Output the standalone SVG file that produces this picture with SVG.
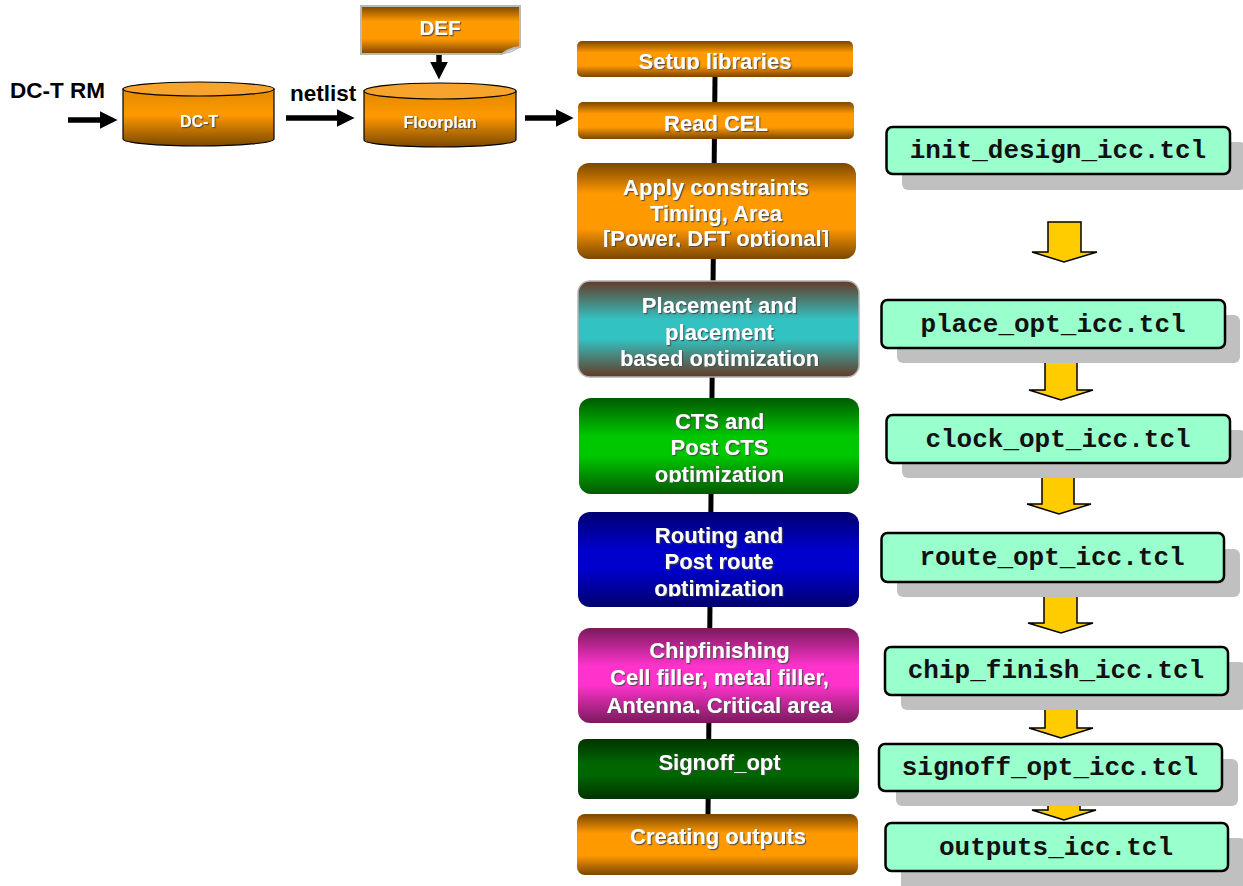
<svg xmlns="http://www.w3.org/2000/svg" width="1243" height="886" viewBox="0 0 1243 886">
  <defs>
    <linearGradient id="gOrange" x1="0" y1="0" x2="0" y2="1">
      <stop offset="0" stop-color="#7a4600"/>
      <stop offset="0.32" stop-color="#ff9900"/>
      <stop offset="0.68" stop-color="#ff9900"/>
      <stop offset="1" stop-color="#7a4600"/>
    </linearGradient>
    <linearGradient id="gTeal" x1="0" y1="0" x2="0" y2="1">
      <stop offset="0" stop-color="#643a26"/>
      <stop offset="0.4" stop-color="#33c2c2"/>
      <stop offset="0.6" stop-color="#33c2c2"/>
      <stop offset="1" stop-color="#643a26"/>
    </linearGradient>
    <linearGradient id="gGreen" x1="0" y1="0" x2="0" y2="1">
      <stop offset="0" stop-color="#005a00"/>
      <stop offset="0.4" stop-color="#00c800"/>
      <stop offset="0.6" stop-color="#00c800"/>
      <stop offset="1" stop-color="#005a00"/>
    </linearGradient>
    <linearGradient id="gBlue" x1="0" y1="0" x2="0" y2="1">
      <stop offset="0" stop-color="#000070"/>
      <stop offset="0.4" stop-color="#0000cc"/>
      <stop offset="0.6" stop-color="#0000cc"/>
      <stop offset="1" stop-color="#000070"/>
    </linearGradient>
    <linearGradient id="gPink" x1="0" y1="0" x2="0" y2="1">
      <stop offset="0" stop-color="#7a1a5c"/>
      <stop offset="0.4" stop-color="#ff33cc"/>
      <stop offset="0.6" stop-color="#ff33cc"/>
      <stop offset="1" stop-color="#7a1a5c"/>
    </linearGradient>
    <linearGradient id="gDark" x1="0" y1="0" x2="0" y2="1">
      <stop offset="0" stop-color="#003300"/>
      <stop offset="0.4" stop-color="#006600"/>
      <stop offset="0.6" stop-color="#006600"/>
      <stop offset="1" stop-color="#003300"/>
    </linearGradient>
    <linearGradient id="gCyl" x1="0" y1="0" x2="0" y2="1">
      <stop offset="0" stop-color="#e08a00"/>
      <stop offset="0.45" stop-color="#ff9900"/>
      <stop offset="1" stop-color="#7a4800"/>
    </linearGradient>
    <filter id="txtShadow" x="-10%" y="-30%" width="120%" height="160%">
      <feDropShadow dx="1.2" dy="1.2" stdDeviation="0.4" flood-color="#4a4a4a" flood-opacity="0.9"/>
    </filter>
    <clipPath id="cSetup"><rect x="570" y="30" width="300" height="39.5"/></clipPath>
    <clipPath id="cApply"><rect x="570" y="160" width="300" height="87"/></clipPath>
    <clipPath id="cPlace"><rect x="570" y="280" width="300" height="86.5"/></clipPath>
    <clipPath id="cCts"><rect x="570" y="395" width="300" height="87.5"/></clipPath>
    <clipPath id="cRoute"><rect x="570" y="510" width="300" height="86.5"/></clipPath>
    <clipPath id="cChip"><rect x="570" y="625" width="300" height="88.5"/></clipPath>
    <marker id="blkHead" viewBox="0 0 10 10" refX="0" refY="5" markerWidth="3.2" markerHeight="3.4" orient="auto" markerUnits="strokeWidth">
      <path d="M0,0 L10,5 L0,10 Z" fill="#000"/>
    </marker>
  </defs>
  <style>
    .lbl { font-family: "Liberation Sans", Arial, sans-serif; font-weight: bold; fill: #ffffff; text-anchor: middle; filter: url(#txtShadow); }
    .flow { font-size: 22px; }
    .cyl { font-size: 16px; }
    .note { font-family: "Liberation Sans", Arial, sans-serif; font-weight: bold; font-size: 22.5px; fill: #000; }
    .tcl { font-family: "Liberation Mono", "Courier New", monospace; font-weight: bold; font-size: 26px; fill: #111; text-anchor: middle; }
    .tclBox { fill: #99ffcc; stroke: #000; stroke-width: 2.5; }
    .tclShadow { fill: #c0c0c0; }
    .bigArrow { fill: #ffcc00; stroke: #000; stroke-width: 1.5; stroke-linejoin: miter; }
    .blk { stroke: #000; stroke-width: 5.5; fill: none; }
    .cylEdge { stroke: #000; stroke-width: 1.2; }
  </style>

  <!-- connectors -->
  <g id="connectors">
    <!-- spine of the flow -->
    <line x1="715" y1="77" x2="708" y2="815" stroke="#000" stroke-width="5"/>
    <!-- input arrows -->
    <line class="blk" x1="68" y1="120" x2="100" y2="120" marker-end="url(#blkHead)"/>
    <line class="blk" x1="286" y1="118" x2="337" y2="118" marker-end="url(#blkHead)"/>
    <line class="blk" x1="525" y1="118" x2="556" y2="118" marker-end="url(#blkHead)"/>
    <line class="blk" x1="439" y1="54" x2="439" y2="62" marker-end="url(#blkHead)"/>
    <!-- script sequence arrows -->
    <polygon class="bigArrow" points="1048,222 1081,222 1081,252 1097,252 1064,262 1032,252 1048,252"/>
    <polygon class="bigArrow" points="1045,355 1077,355 1077,390 1093,390 1061,400 1029,390 1045,390"/>
    <polygon class="bigArrow" points="1042,470 1074,470 1074,504 1091,504 1059,514 1027,504 1042,504"/>
    <polygon class="bigArrow" points="1044,590 1077,590 1077,623 1093,623 1061,633 1028,623 1044,623"/>
    <polygon class="bigArrow" points="1045,700 1077,700 1077,728 1093,728 1061,738 1029,728 1045,728"/>
    <polygon class="bigArrow" points="1048,790 1080,790 1080,810 1096,810 1064,820 1032,810 1048,810"/>
  </g>

  <!-- input labels -->
  <g id="label-dct-rm"><text class="note" x="10" y="98">DC-T RM</text></g>
  <g id="label-netlist"><text class="note" x="290" y="101">netlist</text></g>

  <!-- DEF document -->
  <g id="def">
    <path d="M361,6 H520 V47 Q510,48 502,54 H361 Z" fill="url(#gOrange)" stroke="#b8b8b8" stroke-width="2"/>
    <path d="M502,54 Q507,50 520,47 Q512,53 502,54 Z" fill="#d8d8d8" stroke="#b8b8b8" stroke-width="1"/>
    <text class="lbl" x="440" y="35" font-size="20.5">DEF</text>
  </g>

  <!-- databases -->
  <g id="dct">
    <path class="cylEdge" d="M123,89 V139 A75.5,7 0 0 0 274,139 V89 Z" fill="url(#gCyl)"/>
    <ellipse class="cylEdge" cx="198.5" cy="89" rx="75.5" ry="7" fill="#f7a42c"/>
    <text class="lbl cyl" x="199" y="127">DC-T</text>
  </g>
  <g id="floorplan">
    <path class="cylEdge" d="M364,91 V140 A76,7 0 0 0 516,140 V91 Z" fill="url(#gCyl)"/>
    <ellipse class="cylEdge" cx="440" cy="91" rx="76" ry="8" fill="#f7a42c"/>
    <text class="lbl cyl" x="440" y="128">Floorplan</text>
  </g>

  <!-- flow steps -->
  <g id="setup">
    <rect x="577" y="41" width="276" height="36" rx="5" fill="url(#gOrange)"/>
    <g clip-path="url(#cSetup)"><text class="lbl flow" x="715" y="68.5">Setup libraries</text></g>
  </g>
  <g id="readcel">
    <rect x="578" y="102" width="276" height="37" rx="5" fill="url(#gOrange)"/>
    <text class="lbl flow" x="716" y="131">Read CEL</text>
  </g>
  <g id="constraints">
    <rect x="577" y="163" width="279" height="96" rx="12" fill="url(#gOrange)"/>
    <g clip-path="url(#cApply)">
      <text class="lbl flow" x="716" y="195">Apply constraints</text>
      <text class="lbl flow" x="716" y="221">Timing, Area</text>
      <text class="lbl flow" x="716" y="246">[Power, DFT optional]</text>
    </g>
  </g>
  <g id="placement">
    <rect x="578" y="281" width="281" height="96" rx="12" fill="url(#gTeal)" stroke="#b4b4b4" stroke-width="1.5"/>
    <g clip-path="url(#cPlace)">
      <text class="lbl flow" x="719.5" y="313">Placement and</text>
      <text class="lbl flow" x="719.5" y="340">placement</text>
      <text class="lbl flow" x="719.5" y="365.5">based optimization</text>
    </g>
  </g>
  <g id="cts">
    <rect x="579" y="398" width="280" height="96" rx="12" fill="url(#gGreen)"/>
    <g clip-path="url(#cCts)">
      <text class="lbl flow" x="719.5" y="429">CTS and</text>
      <text class="lbl flow" x="719.5" y="455">Post CTS</text>
      <text class="lbl flow" x="719.5" y="481.5">optimization</text>
    </g>
  </g>
  <g id="routing">
    <rect x="578" y="512" width="281" height="95" rx="12" fill="url(#gBlue)"/>
    <g clip-path="url(#cRoute)">
      <text class="lbl flow" x="719" y="543">Routing and</text>
      <text class="lbl flow" x="719" y="569">Post route</text>
      <text class="lbl flow" x="719" y="595.5">optimization</text>
    </g>
  </g>
  <g id="chipfinish">
    <rect x="578" y="628" width="281" height="95" rx="12" fill="url(#gPink)"/>
    <g clip-path="url(#cChip)">
      <text class="lbl flow" x="719.5" y="658">Chipfinishing</text>
      <text class="lbl flow" x="719.5" y="685">Cell filler, metal filler,</text>
      <text class="lbl flow" x="719.5" y="712.5">Antenna, Critical area</text>
    </g>
  </g>
  <g id="signoff">
    <rect x="578" y="739" width="281" height="60" rx="8" fill="url(#gDark)"/>
    <text class="lbl flow" x="719.5" y="770">Signoff_opt</text>
  </g>
  <g id="outputs">
    <rect x="577" y="814" width="281" height="61" rx="8" fill="url(#gOrange)"/>
    <text class="lbl flow" x="718" y="844">Creating outputs</text>
  </g>

  <!-- scripts -->
  <g id="init-tcl">
    <rect class="tclShadow" x="902" y="142" width="344" height="48" rx="6"/>
    <rect class="tclBox" x="886.5" y="127" width="343.5" height="47" rx="6"/>
    <text class="tcl" x="1058" y="158">init_design_icc.tcl</text>
  </g>
  <g id="place-tcl">
    <rect class="tclShadow" x="897" y="315" width="343" height="48" rx="6"/>
    <rect class="tclBox" x="881.5" y="300" width="343.5" height="48" rx="6"/>
    <text class="tcl" x="1053" y="332">place_opt_icc.tcl</text>
  </g>
  <g id="clock-tcl">
    <rect class="tclShadow" x="902" y="430" width="344" height="48" rx="6"/>
    <rect class="tclBox" x="886.5" y="415" width="343.5" height="48" rx="6"/>
    <text class="tcl" x="1058" y="447">clock_opt_icc.tcl</text>
  </g>
  <g id="route-tcl">
    <rect class="tclShadow" x="897" y="549" width="343" height="48" rx="6"/>
    <rect class="tclBox" x="881.5" y="533" width="342.5" height="49" rx="6"/>
    <text class="tcl" x="1052" y="565">route_opt_icc.tcl</text>
  </g>
  <g id="chip-tcl">
    <rect class="tclShadow" x="901" y="662" width="345" height="48" rx="6"/>
    <rect class="tclBox" x="885" y="647" width="343" height="48" rx="6"/>
    <text class="tcl" x="1056" y="678">chip_finish_icc.tcl</text>
  </g>
  <g id="signoff-tcl">
    <rect class="tclShadow" x="896" y="759" width="342" height="47" rx="6"/>
    <rect class="tclBox" x="879" y="744" width="343" height="47" rx="6"/>
    <text class="tcl" x="1050" y="775">signoff_opt_icc.tcl</text>
  </g>
  <g id="outputs-tcl">
    <rect class="tclShadow" x="901" y="838" width="345" height="55" rx="6"/>
    <rect class="tclBox" x="885.5" y="823" width="342.5" height="48" rx="6"/>
    <text class="tcl" x="1056" y="855">outputs_icc.tcl</text>
  </g>
</svg>
